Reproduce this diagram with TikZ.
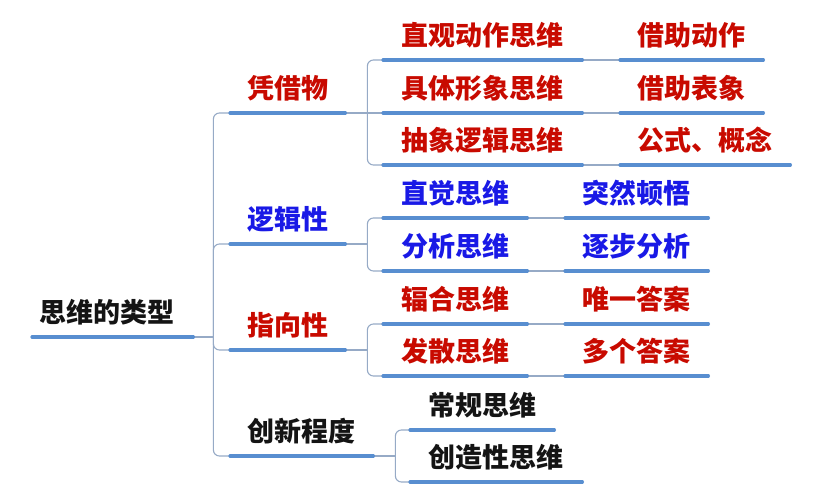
\documentclass[tikz,border=0pt]{standalone}
\usepackage{fontspec}
\setmainfont{Noto Sans CJK SC}
\usetikzlibrary{calc}
\definecolor{tred}{RGB}{200,10,0}
\definecolor{tblue}{RGB}{25,25,230}
\definecolor{tblack}{RGB}{20,20,20}
\definecolor{uline}{RGB}{88,142,208}
\definecolor{thin}{RGB}{150,170,198}
\tikzset{
  box/.style={anchor=south west, inner sep=0pt, minimum height=46pt,
    font=\fontsize{27}{29}\selectfont\bfseries, text height=21pt, text depth=3pt},
  rednode/.style={box, text=tred},
  bluenode/.style={box, text=tblue},
  blacknode/.style={box, text=tblack},
  uln/.style={draw=uline, line width=3.2pt, line cap=round},
  conn/.style={draw=thin, line width=1.1pt, rounded corners=6pt},
}
\newcommand{\ul}[1]{\draw[uln] (#1.south west) -- (#1.south east);}
\begin{document}
\begin{tikzpicture}[x=1pt,y=-1pt]
\useasboundingbox (0,0) rectangle (819,500);
% root
\node[blacknode, minimum width=161pt] (root) at (32,337) {思维的类型\hspace*{12pt}};
% level 1
\node[rednode, minimum width=115pt] (pj) at (230,113) {凭借物};
\node[bluenode, minimum width=115pt] (lj) at (230,244) {逻辑性};
\node[rednode, minimum width=115pt] (zx) at (230,350) {指向性};
\node[blacknode, minimum width=143pt] (cx) at (230,456) {创新程度};
% level 2
\node[rednode, minimum width=199pt] (a1) at (383,60) {直观动作思维};
\node[rednode, minimum width=199pt] (a2) at (383,113) {具体形象思维};
\node[rednode, minimum width=199pt] (a3) at (383,165) {抽象逻辑思维};
\node[bluenode, minimum width=144pt] (a4) at (383,218) {直觉思维};
\node[bluenode, minimum width=144pt] (a5) at (383,271) {分析思维};
\node[rednode, minimum width=144pt] (a6) at (383,324) {辐合思维};
\node[rednode, minimum width=144pt] (a7) at (383,376) {发散思维};
\node[blacknode, minimum width=144pt] (a8) at (410,430) {常规思维};
\node[blacknode, minimum width=172pt] (a9) at (410,482) {创造性思维};
% level 3
\node[rednode, minimum width=143pt] (b1) at (620,60) {借助动作};
\node[rednode, minimum width=143pt] (b2) at (620,113) {借助表象};
\node[rednode, minimum width=170pt] (b3) at (620,165) {公式、概念};
\node[bluenode, minimum width=143pt] (b4) at (565,218) {突然顿悟};
\node[bluenode, minimum width=143pt] (b5) at (565,271) {逐步分析};
\node[rednode, minimum width=143pt] (b6) at (565,324) {唯一答案};
\node[rednode, minimum width=143pt] (b7) at (565,376) {多个答案};
% junctions
\coordinate (j0) at ($(root.south east)+(20,0)$);
\coordinate (j1) at ($(pj.south east)+(22,0)$);
\coordinate (j2) at ($(lj.south east)+(22,0)$);
\coordinate (j3) at ($(zx.south east)+(22,0)$);
\coordinate (j4) at ($(cx.south east)+(22,0)$);
% connectors
\draw[conn] (root.south east) -- (j0);
\draw[conn] (j0) |- (pj.south west);
\draw[conn] (j0) |- (lj.south west);
\draw[conn] (j0) |- (zx.south west);
\draw[conn] (j0) |- (cx.south west);
\draw[conn] (pj.south east) -- (j1);
\draw[conn] (j1) |- (a1.south west);
\draw[conn] (j1) -- (a2.south west);
\draw[conn] (j1) |- (a3.south west);
\draw[conn] (lj.south east) -- (j2);
\draw[conn] (j2) |- (a4.south west);
\draw[conn] (j2) |- (a5.south west);
\draw[conn] (zx.south east) -- (j3);
\draw[conn] (j3) |- (a6.south west);
\draw[conn] (j3) |- (a7.south west);
\draw[conn] (cx.south east) -- (j4);
\draw[conn] (j4) |- (a8.south west);
\draw[conn] (j4) |- (a9.south west);
\draw[conn] (a1.south east) -- (b1.south west);
\draw[conn] (a2.south east) -- (b2.south west);
\draw[conn] (a3.south east) -- (b3.south west);
\draw[conn] (a4.south east) -- (b4.south west);
\draw[conn] (a5.south east) -- (b5.south west);
\draw[conn] (a6.south east) -- (b6.south west);
\draw[conn] (a7.south east) -- (b7.south west);
% underlines
\foreach \n in {root,pj,lj,zx,cx,a1,a2,a3,a4,a5,a6,a7,a8,a9,b1,b2,b3,b4,b5,b6,b7}{\ul{\n}}
\end{tikzpicture}
\end{document}
